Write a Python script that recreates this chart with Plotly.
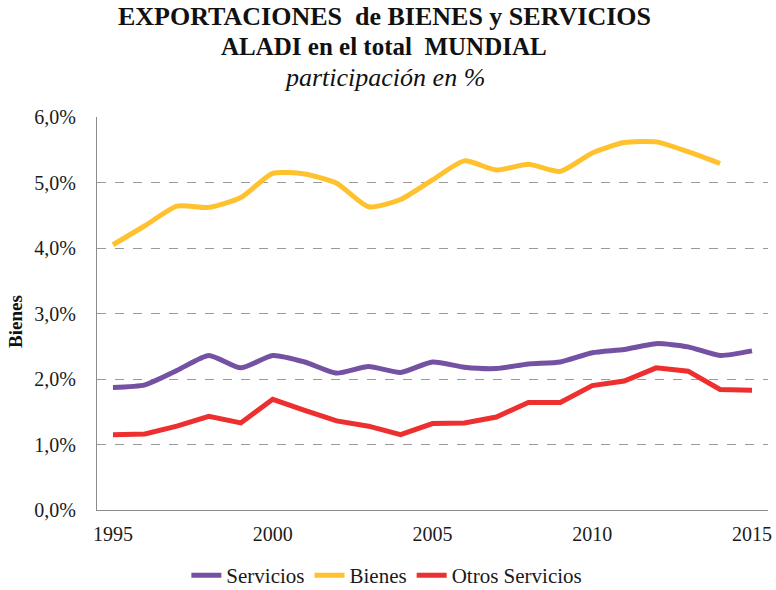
import plotly.graph_objects as go

years = list(range(1995, 2016))
bienes = [4.05, 4.34, 4.64, 4.62, 4.77, 5.14, 5.13, 4.99, 4.63, 4.74, 5.04, 5.33,
          5.19, 5.28, 5.17, 5.45, 5.61, 5.62, 5.47, 5.29, None]
servicios = [1.87, 1.91, 2.13, 2.36, 2.17, 2.36, 2.26, 2.09, 2.19, 2.10, 2.26, 2.18,
             2.16, 2.23, 2.26, 2.40, 2.45, 2.54, 2.49, 2.36, 2.43]
otros = [1.15, 1.16, 1.28, 1.43, 1.33, 1.69, 1.52, 1.36, 1.28, 1.15, 1.32, 1.33,
         1.42, 1.64, 1.64, 1.90, 1.97, 2.17, 2.12, 1.84, 1.83]
y_ticks = [0, 1, 2, 3, 4, 5, 6]
x_ticks = [1995, 2000, 2005, 2010, 2015]

FONT = "Liberation Serif, Times New Roman, serif"
TXT = "#1a1a1a"

fig = go.Figure()
fig.add_trace(go.Scatter(x=years, y=servicios, name="Servicios", mode="lines",
                         line=dict(color="#7451A3", width=5, shape="spline", smoothing=0.6)))
fig.add_trace(go.Scatter(x=years, y=bienes, name="Bienes", mode="lines",
                         line=dict(color="#FFC12E", width=5, shape="spline", smoothing=0.6)))
fig.add_trace(go.Scatter(x=years, y=otros, name="Otros Servicios", mode="lines",
                         line=dict(color="#EE2F2F", width=5)))

fig.update_layout(
    width=776, height=590,
    margin=dict(l=97, r=8, t=117, b=80, autoexpand=False),
    paper_bgcolor="white", plot_bgcolor="white",
    separators=",.",
    font=dict(family=FONT, size=20, color=TXT),
    showlegend=True,
    legend=dict(orientation="h", x=0.432, xanchor="center", y=(510 - 555) / 393, yanchor="top",
                font=dict(family=FONT, size=21, color=TXT),
                tracegroupgap=0, bgcolor="rgba(0,0,0,0)"),
    xaxis=dict(range=[1994.5, 2015.5], tickmode="array", tickvals=x_ticks,
               ticktext=[str(v) for v in x_ticks], showgrid=False, zeroline=False,
               showline=True, linecolor="#8c8c8c", linewidth=1, ticks="",
               automargin=False, ticklabeloverflow="allow", ticklabelstandoff=6,
               tickfont=dict(family=FONT, size=20, color=TXT)),
    yaxis=dict(range=[0, 6], tickmode="array", tickvals=y_ticks,
               ticktext=[f"{v},0%" for v in y_ticks], showgrid=True,
               gridcolor="#9a9a9a", griddash="dash", gridwidth=1, zeroline=False,
               showline=True, linecolor="#8c8c8c", linewidth=1, ticks="",
               automargin=False, ticklabelstandoff=16,
               tickfont=dict(family=FONT, size=20, color=TXT)),
)

fig.add_annotation(text="<b>Bienes</b>", xref="paper", yref="paper", textangle=-90,
                   x=(15 - 97) / 671, y=(510 - 322) / 393, xanchor="center", yanchor="middle",
                   showarrow=False, font=dict(family=FONT, size=19, color="#111111"))

TX = (384 - 97) / 671
fig.add_annotation(text="<b>EXPORTACIONES  de BIENES y SERVICIOS</b>", xref="paper", yref="paper",
                   x=TX, y=(510 - 17) / 393, xanchor="center", yanchor="middle", showarrow=False,
                   font=dict(family=FONT, size=26, color="#111111"))
fig.add_annotation(text="<b>ALADI en el total  MUNDIAL</b>", xref="paper", yref="paper",
                   x=TX, y=(510 - 46) / 393, xanchor="center", yanchor="middle", showarrow=False,
                   font=dict(family=FONT, size=25, color="#111111"))
fig.add_annotation(text="participación en %", xref="paper", yref="paper",
                   x=TX, y=(510 - 77) / 393, xanchor="center", yanchor="middle", showarrow=False,
                   font=dict(family="Liberation Serif", style="italic", size=26, color="#111111"))

fig.write_html("out.html", config={"displayModeBar": False},
               post_script="document.body.style.margin='0';")
